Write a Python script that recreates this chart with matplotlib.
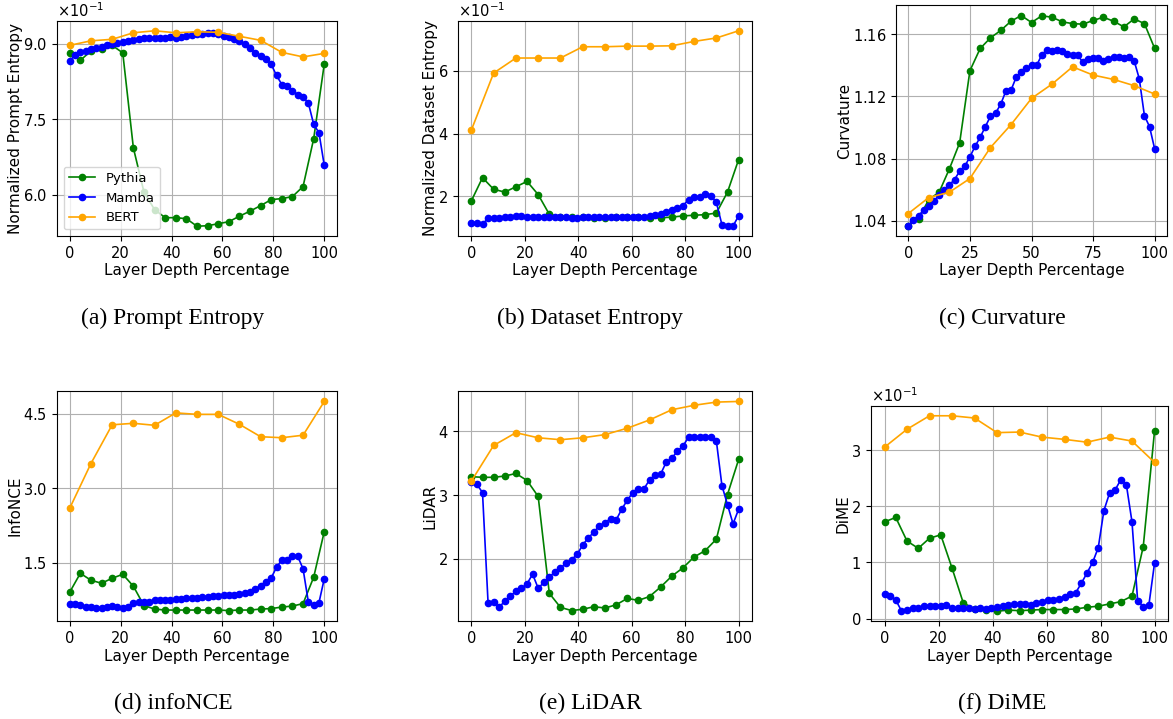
import numpy as np
import matplotlib
matplotlib.use("Agg")
import matplotlib.pyplot as plt
from matplotlib.ticker import MaxNLocator

# layer depth grids (number of layers per model)
pythia_x = np.linspace(0, 100, 25)
mamba_x = np.linspace(0, 100, 49)
bert_x = np.linspace(0, 100, 13)

# (a) prompt entropy, in units of 1e-1
pe_pythia = [8.82, 8.67, 8.86, 8.89, 8.97, 8.82, 6.93, 6.05, 5.70, 5.54, 5.54, 5.52, 5.37,
             5.38, 5.42, 5.46, 5.57, 5.67, 5.78, 5.90, 5.92, 5.96, 6.16, 7.11, 8.60]
pe_mamba = [8.66, 8.78, 8.83, 8.86, 8.89, 8.91, 8.93, 8.97, 8.99, 9.01, 9.03, 9.05, 9.07,
            9.09, 9.11, 9.11, 9.12, 9.11, 9.12, 9.14, 9.12, 9.13, 9.15, 9.18, 9.19, 9.20,
            9.21, 9.21, 9.19, 9.16, 9.14, 9.10, 9.05, 9.00, 8.92, 8.81, 8.76, 8.70, 8.59,
            8.37, 8.19, 8.17, 8.07, 7.99, 7.94, 7.82, 7.40, 7.23, 6.58]
pe_bert = [8.97, 9.06, 9.09, 9.22, 9.26, 9.22, 9.24, 9.23, 9.15, 9.07, 8.83, 8.74, 8.81]

# (b) dataset entropy, in units of 1e-1
de_pythia = [1.85, 2.59, 2.22, 2.13, 2.30, 2.47, 2.05, 1.42, 1.35, 1.33, 1.32, 1.31, 1.31,
             1.32, 1.33, 1.32, 1.30, 1.31, 1.33, 1.37, 1.39, 1.41, 1.46, 2.13, 3.17]
de_mamba = [1.15, 1.15, 1.11, 1.29, 1.29, 1.31, 1.33, 1.35, 1.37, 1.37, 1.35, 1.35, 1.34,
            1.34, 1.35, 1.34, 1.33, 1.32, 1.31, 1.31, 1.32, 1.33, 1.34, 1.35, 1.34, 1.34,
            1.33, 1.33, 1.35, 1.34, 1.32, 1.33, 1.37, 1.40, 1.42, 1.50, 1.57, 1.63, 1.70,
            1.88, 1.97, 1.97, 2.06, 2.02, 1.80, 1.09, 1.04, 1.05, 1.37]
de_bert = [4.11, 5.93, 6.41, 6.41, 6.41, 6.77, 6.77, 6.79, 6.79, 6.80, 6.94, 7.05, 7.28]

# (c) curvature
cu_pythia = [1.037, 1.0415, 1.0537, 1.0584, 1.0734, 1.0901, 1.1365, 1.1508, 1.1576, 1.1624,
             1.1683, 1.1720, 1.1675, 1.1718, 1.1709, 1.1679, 1.1668, 1.1664, 1.1688, 1.1709,
             1.1683, 1.1647, 1.1698, 1.1668, 1.1508]
cu_mamba = [1.0370, 1.0407, 1.0434, 1.0468, 1.0498, 1.0528, 1.0565, 1.0597, 1.0631, 1.0665,
            1.0719, 1.0751, 1.0811, 1.0879, 1.0937, 1.1005, 1.1072, 1.1093, 1.1149, 1.1234,
            1.1239, 1.1322, 1.1360, 1.1382, 1.1401, 1.1399, 1.1467, 1.1499, 1.1491, 1.1499,
            1.1493, 1.1472, 1.1465, 1.1465, 1.1420, 1.1440, 1.1448, 1.1446, 1.1429, 1.1440,
            1.1455, 1.1452, 1.1448, 1.1452, 1.1429, 1.1313, 1.1076, 1.1005, 1.0862]
cu_bert = [1.0447, 1.0550, 1.0584, 1.0672, 1.0871, 1.1018, 1.1187, 1.1279, 1.1390, 1.1337,
           1.1309, 1.1269, 1.1215]

# (d) infoNCE
nce_pythia = [0.91, 1.29, 1.15, 1.09, 1.19, 1.27, 1.03, 0.64, 0.57, 0.55, 0.55, 0.55, 0.55,
              0.55, 0.55, 0.54, 0.55, 0.55, 0.57, 0.58, 0.61, 0.63, 0.68, 1.21, 2.13]
nce_mamba = [0.68, 0.68, 0.66, 0.62, 0.61, 0.59, 0.59, 0.62, 0.63, 0.62, 0.60, 0.61, 0.70,
             0.71, 0.71, 0.71, 0.75, 0.75, 0.75, 0.76, 0.77, 0.77, 0.79, 0.79, 0.80, 0.81,
             0.81, 0.83, 0.84, 0.85, 0.85, 0.85, 0.87, 0.90, 0.91, 0.98, 1.04, 1.12, 1.20,
             1.41, 1.56, 1.56, 1.63, 1.63, 1.38, 0.71, 0.66, 0.70, 1.18]
nce_bert = [2.60, 3.50, 4.28, 4.31, 4.27, 4.52, 4.49, 4.49, 4.29, 4.04, 4.02, 4.07, 4.75]

# (e) LiDAR
li_pythia = [3.29, 3.28, 3.28, 3.30, 3.34, 3.23, 2.98, 1.46, 1.24, 1.19, 1.21, 1.25, 1.23,
             1.28, 1.38, 1.35, 1.41, 1.56, 1.73, 1.86, 2.03, 2.13, 2.31, 3.01, 3.56]
li_mamba = [3.21, 3.17, 3.04, 1.31, 1.33, 1.24, 1.34, 1.42, 1.49, 1.54, 1.61, 1.76, 1.54,
            1.63, 1.71, 1.80, 1.85, 1.94, 1.99, 2.07, 2.22, 2.33, 2.42, 2.52, 2.57, 2.63,
            2.61, 2.78, 2.92, 3.04, 3.09, 3.10, 3.24, 3.32, 3.33, 3.52, 3.58, 3.69, 3.77,
            3.91, 3.91, 3.91, 3.91, 3.91, 3.85, 3.15, 2.85, 2.55, 2.78]
li_bert = [3.22, 3.78, 3.98, 3.90, 3.87, 3.90, 3.95, 4.05, 4.18, 4.34, 4.41, 4.46, 4.47]

# (f) DiME, in units of 1e-1
dm_pythia = [1.72, 1.80, 1.38, 1.25, 1.43, 1.49, 0.90, 0.28, 0.17, 0.15, 0.13, 0.15, 0.14,
             0.15, 0.16, 0.16, 0.16, 0.17, 0.20, 0.22, 0.26, 0.30, 0.40, 1.28, 3.33]
dm_mamba = [0.44, 0.40, 0.33, 0.14, 0.15, 0.18, 0.19, 0.22, 0.22, 0.23, 0.23, 0.24, 0.18,
            0.18, 0.19, 0.19, 0.17, 0.18, 0.17, 0.18, 0.21, 0.23, 0.24, 0.25, 0.25, 0.26,
            0.24, 0.27, 0.30, 0.33, 0.33, 0.35, 0.39, 0.44, 0.46, 0.63, 0.81, 1.00, 1.26,
            1.92, 2.23, 2.29, 2.47, 2.38, 1.72, 0.32, 0.21, 0.24, 0.98]
dm_bert = [3.05, 3.37, 3.61, 3.61, 3.57, 3.31, 3.32, 3.23, 3.19, 3.14, 3.23, 3.16, 2.78]

panels = [
    ("Normalized Prompt Entropy", "(a) Prompt Entropy", pe_pythia, pe_mamba, pe_bert, 0.1),
    ("Normalized Dataset Entropy", "(b) Dataset Entropy", de_pythia, de_mamba, de_bert, 0.1),
    ("Curvature", "(c) Curvature", cu_pythia, cu_mamba, cu_bert, 1.0),
    ("InfoNCE", "(d) infoNCE", nce_pythia, nce_mamba, nce_bert, 1.0),
    ("LiDAR", "(e) LiDAR", li_pythia, li_mamba, li_bert, 1.0),
    ("DiME", "(f) DiME", dm_pythia, dm_mamba, dm_bert, 0.1),
]

# axes boxes in pixels: left, top, right, bottom
W, H = 1173, 719
boxes = [(57, 21, 337, 236), (458, 21, 752, 236), (896, 5, 1167, 236),
         (57, 391, 337, 621), (458, 391, 752, 621), (871, 406, 1168, 621)]
caption_x = [173, 590, 1002, 173, 590, 1002]
caption_y = [318, 318, 318, 703, 703, 703]
xticks = [np.arange(0, 101, 20)] * 6
xticks[2] = np.arange(0, 101, 25)

fig = plt.figure(figsize=(W / 100, H / 100), dpi=100)

for i, (ylab, cap, yp, ym, yb, scale) in enumerate(panels):
    l, t, r, b = boxes[i]
    ax = fig.add_axes([l / W, 1 - b / H, (r - l) / W, (b - t) / H])
    ax.plot(pythia_x, np.array(yp) * scale, "-o", color="green", lw=1.2, ms=4.5, label="Pythia")
    ax.plot(mamba_x, np.array(ym) * scale, "-o", color="blue", lw=1.2, ms=4.5, label="Mamba")
    ax.plot(bert_x, np.array(yb) * scale, "-o", color="orange", lw=1.2, ms=4.5, label="BERT")
    ax.set_xticks(xticks[i])
    ax.yaxis.set_major_locator(MaxNLocator(nbins=4))
    ax.ticklabel_format(axis="y", style="sci", scilimits=(0, 0), useMathText=True)
    ax.yaxis.get_offset_text().set_fontsize(10.5)
    ax.tick_params(labelsize=10.5)
    ax.set_xlabel("Layer Depth Percentage", fontsize=11, labelpad=2)
    ax.set_ylabel(ylab, fontsize=11, labelpad=0)
    ax.grid(True)
    if i == 0:
        ax.legend(loc="lower left", fontsize=9.5)
    fig.text(caption_x[i] / W, 1 - caption_y[i] / H, cap, ha="center", va="center",
             fontsize=17, family="Liberation Serif")

fig.savefig("out.png", dpi=100)
